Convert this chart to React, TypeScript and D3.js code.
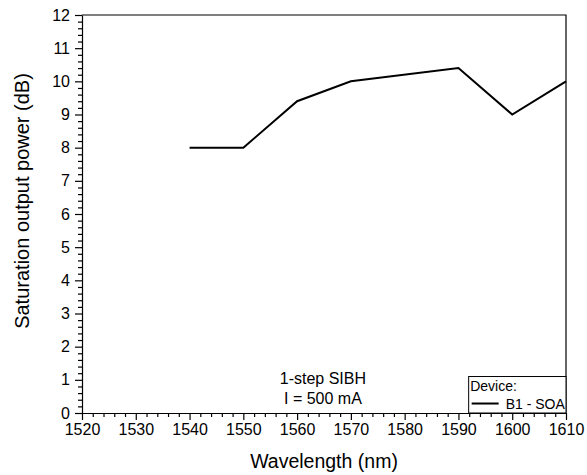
import * as d3 from 'd3';
import React, { useEffect, useRef } from 'react';

const wavelengths = [1540, 1550, 1560, 1570, 1590, 1600, 1610];
const satPower = [8, 8, 9.4, 10, 10.4, 9, 10];
const xTicks = [1520, 1530, 1540, 1550, 1560, 1570, 1580, 1590, 1600, 1610];
const yTicks = [0, 1, 2, 3, 4, 5, 6, 7, 8, 9, 10, 11, 12];

const W = 587;
const H = 475;
const margin = { top: 15, right: 21, bottom: 62, left: 82 };
const font = 'Liberation Sans, Arial, sans-serif';

const App: React.FC = () => {
  const ref = useRef<SVGSVGElement | null>(null);

  useEffect(() => {
    const svg = d3.select(ref.current);
    svg.selectAll('*').remove();
    const iw = W - margin.left - margin.right;
    const ih = H - margin.top - margin.bottom;
    const x = d3.scaleLinear().domain([1520, 1610]).range([0, iw]);
    const y = d3.scaleLinear().domain([0, 12]).range([ih, 0]);

    const g = svg.append('g').attr('transform', `translate(${margin.left},${margin.top})`);

    // minor ticks
    const xMinor = d3.range(1520, 1611, 2).filter(v => v % 10 !== 0);
    const yMinor = d3.range(0, 12.01, 0.2).filter(v => Math.abs(v - Math.round(v)) > 0.01);

    const xa = g.append('g').attr('transform', `translate(0,${ih})`)
      .call(d3.axisBottom(x).tickValues(xMinor).tickSize(4).tickFormat(() => ''));
    xa.select('.domain').remove();
    const ya = g.append('g')
      .call(d3.axisLeft(y).tickValues(yMinor).tickSize(4).tickFormat(() => ''));
    ya.select('.domain').remove();

    const xAxis = g.append('g').attr('transform', `translate(0,${ih})`)
      .call(d3.axisBottom(x).tickValues(xTicks).tickSize(7).tickPadding(4).tickSizeOuter(0).tickFormat(d3.format('d')));
    xAxis.selectAll('text').attr('font-size', 16).attr('font-family', font).attr('fill', '#000');

    const yAxis = g.append('g')
      .call(d3.axisLeft(y).tickValues(yTicks).tickSize(7).tickPadding(5).tickSizeOuter(0));
    yAxis.selectAll('text').attr('font-size', 16).attr('font-family', font).attr('fill', '#000');

    g.selectAll('.tick line').attr('stroke', '#000').attr('stroke-width', 1.2);
    g.selectAll('.domain').attr('stroke', '#000').attr('stroke-width', 1.2);

    // top and right frame
    g.append('path')
      .attr('d', `M0,0H${iw}V${ih}`)
      .attr('fill', 'none').attr('stroke', '#000').attr('stroke-width', 1.2);

    const line = d3.line<number>()
      .x((_, i) => x(wavelengths[i]))
      .y(d => y(d));
    g.append('path')
      .datum(satPower)
      .attr('d', line)
      .attr('fill', 'none')
      .attr('stroke', '#000')
      .attr('stroke-width', 2);

    // annotation
    g.append('text').attr('x', x(1564.8)).attr('y', y(0.88)).attr('text-anchor', 'middle')
      .attr('font-size', 16).attr('font-family', font).text('1-step SIBH');
    g.append('text').attr('x', x(1564.8)).attr('y', y(0.28)).attr('text-anchor', 'middle')
      .attr('font-size', 16).attr('font-family', font).text('I = 500 mA');

    // legend
    const lx = x(1591.9);
    const ly = y(1.1);
    const lg = g.append('g');
    lg.append('rect').attr('x', lx).attr('y', ly).attr('width', iw - lx).attr('height', ih - ly)
      .attr('fill', '#fff').attr('stroke', '#000').attr('stroke-width', 1);
    lg.append('text').attr('x', lx + 1.5).attr('y', ly + 14).attr('font-size', 14).attr('font-family', font).text('Device:');
    lg.append('line').attr('x1', lx + 3).attr('x2', lx + 30).attr('y1', ly + 27).attr('y2', ly + 27)
      .attr('stroke', '#000').attr('stroke-width', 2);
    lg.append('text').attr('x', lx + 37).attr('y', ly + 32).attr('font-size', 14).attr('font-family', font).text('B1 - SOA');

    // axis titles
    svg.append('text')
      .attr('x', 324).attr('y', 468).attr('text-anchor', 'middle')
      .attr('font-size', 19.5).attr('font-family', font).text('Wavelength (nm)');
    svg.append('text')
      .attr('transform', 'translate(29,201) rotate(-90)')
      .attr('text-anchor', 'middle')
      .attr('font-size', 20).attr('font-family', font).text('Saturation output power (dB)');
  }, []);

  return (
    <svg ref={ref} width={W} height={H} style={{ position: 'absolute', left: 0, top: 0, background: '#fff' }} />
  );
};

export default App;
